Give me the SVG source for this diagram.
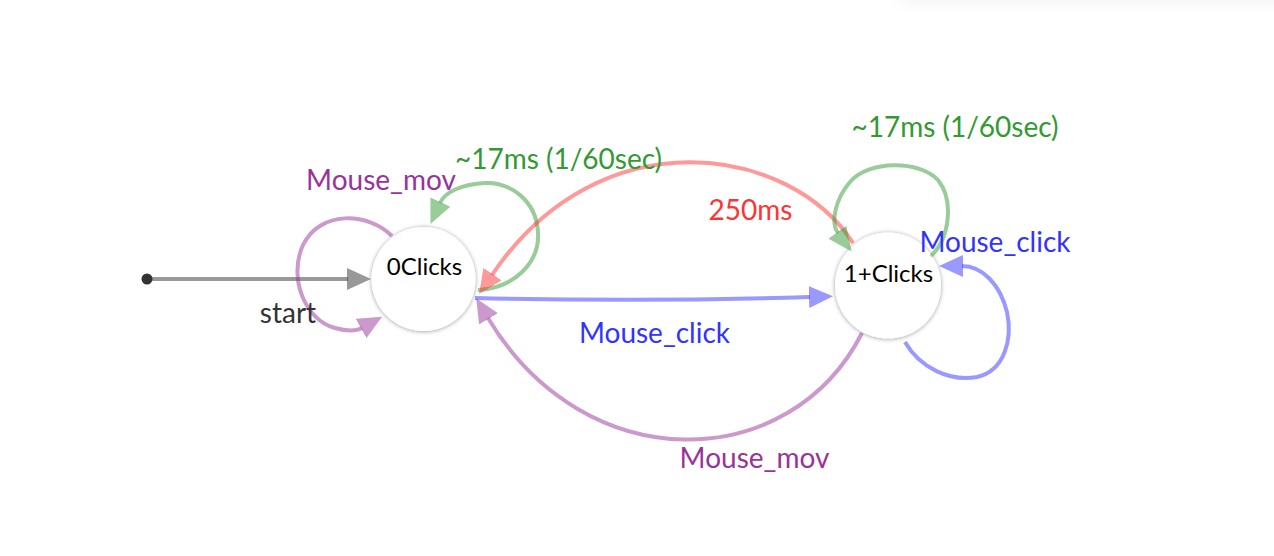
<svg xmlns="http://www.w3.org/2000/svg" width="1274" height="556" viewBox="0 0 1274 556">
<style>
.lbl{font-family:Lato,"Open Sans","Liberation Sans",sans-serif;font-size:28px;text-anchor:middle}
.nt{font-family:Lato,"Open Sans","Liberation Sans",sans-serif;font-size:24px;text-anchor:middle;fill:#000}
.e{fill:none;stroke-width:4}
.g{stroke:#339933;stroke-opacity:0.5}
.r{stroke:#ff3333;stroke-opacity:0.5}
.b{stroke:#3333ff;stroke-opacity:0.5}
.p{stroke:#993399;stroke-opacity:0.5}
.k{stroke:#333;stroke-opacity:0.5}
.node{fill:#fff;filter:url(#sh)}
</style>
<defs>
<filter id="sh" x="-20%" y="-20%" width="140%" height="140%"><feDropShadow dx="0" dy="0.5" stdDeviation="2" flood-color="#000" flood-opacity="0.4"/></filter>
<filter id="bl" x="-20%" y="-200%" width="140%" height="500%"><feGaussianBlur stdDeviation="10"/></filter>
<marker id="ag" viewBox="0 0 24 22" refX="1" refY="11" markerWidth="24" markerHeight="22" markerUnits="userSpaceOnUse" orient="auto"><path d="M0,0 L24,11 L0,22 z" fill="#339933" fill-opacity="0.5"/></marker>
<marker id="ar" viewBox="0 0 24 22" refX="1" refY="11" markerWidth="24" markerHeight="22" markerUnits="userSpaceOnUse" orient="auto"><path d="M0,0 L24,11 L0,22 z" fill="#ff3333" fill-opacity="0.5"/></marker>
<marker id="ab" viewBox="0 0 24 22" refX="1" refY="11" markerWidth="24" markerHeight="22" markerUnits="userSpaceOnUse" orient="auto"><path d="M0,0 L24,11 L0,22 z" fill="#3333ff" fill-opacity="0.5"/></marker>
<marker id="ap" viewBox="0 0 24 22" refX="1" refY="11" markerWidth="24" markerHeight="22" markerUnits="userSpaceOnUse" orient="auto"><path d="M0,0 L24,11 L0,22 z" fill="#993399" fill-opacity="0.5"/></marker>
<marker id="ak" viewBox="0 0 24 22" refX="1" refY="11" markerWidth="24" markerHeight="22" markerUnits="userSpaceOnUse" orient="auto"><path d="M0,0 L24,11 L0,22 z" fill="#333" fill-opacity="0.5"/></marker>
</defs>
<rect width="1274" height="556" fill="#fff"/>
<rect x="900" y="-40" width="420" height="40" fill="#000" opacity="0.06" filter="url(#bl)"/>

<g id="node-0clicks">
<circle class="node" cx="423.5" cy="279" r="52"/>
<text class="nt" x="424.5" y="275">0Clicks</text>
</g>
<g id="node-1clicks">
<circle class="node" cx="888" cy="285.5" r="53"/>
<text class="nt" x="888.5" y="282">1+Clicks</text>
</g>

<g id="connectors">
<circle cx="147" cy="279" r="5.5" fill="#333"/>
<path class="e k" d="M147 279 L348 279" marker-end="url(#ak)"/>
<path class="e p" d="M392 236 C368 212 320 210 303 245 C288 278 305 320 335 328 C342 330 353 333 362 328" marker-end="url(#ap)"/>
<path class="e g" d="M478 290 C515 288 540 262 538 232 C536 200 510 182 485 183 C462 184 445 192 440 203" marker-end="url(#ag)"/>
<path class="e r" d="M853 243 C790 145 600 115 492 275" marker-end="url(#ar)"/>
<path class="e g" d="M931 256 C950 238 954 200 938 180 C920 160 868 160 850 182 C836 198 830 222 838 233" marker-end="url(#ag)"/>
<path class="e b" d="M475 298 Q650 302 810 297" marker-end="url(#ab)"/>
<path class="e b" d="M905 342 C920 368 950 382 977 377 C1004 371 1013 340 1007 312 C1000 284 982 266 962 266" marker-end="url(#ab)"/>
<path class="e p" d="M862 333 C790 475 585 480 488 318" marker-end="url(#ap)"/>
</g>

<g id="labels">
<text class="lbl" x="288" y="323" fill="#333">start</text>
<text class="lbl" x="381" y="190" fill="#993399">Mouse_mov</text>
<text class="lbl" x="558.5" y="169" fill="#339933">~17ms (1/60sec)</text>
<text class="lbl" x="955" y="137" fill="#339933">~17ms (1/60sec)</text>
<text class="lbl" x="750.5" y="220" fill="#ff3333">250ms</text>
<text class="lbl" x="654.5" y="343" fill="#3333ff">Mouse_click</text>
<text class="lbl" x="754.5" y="468" fill="#993399">Mouse_mov</text>
<text class="lbl" x="995" y="252" fill="#3333ff">Mouse_click</text>
</g>
</svg>
